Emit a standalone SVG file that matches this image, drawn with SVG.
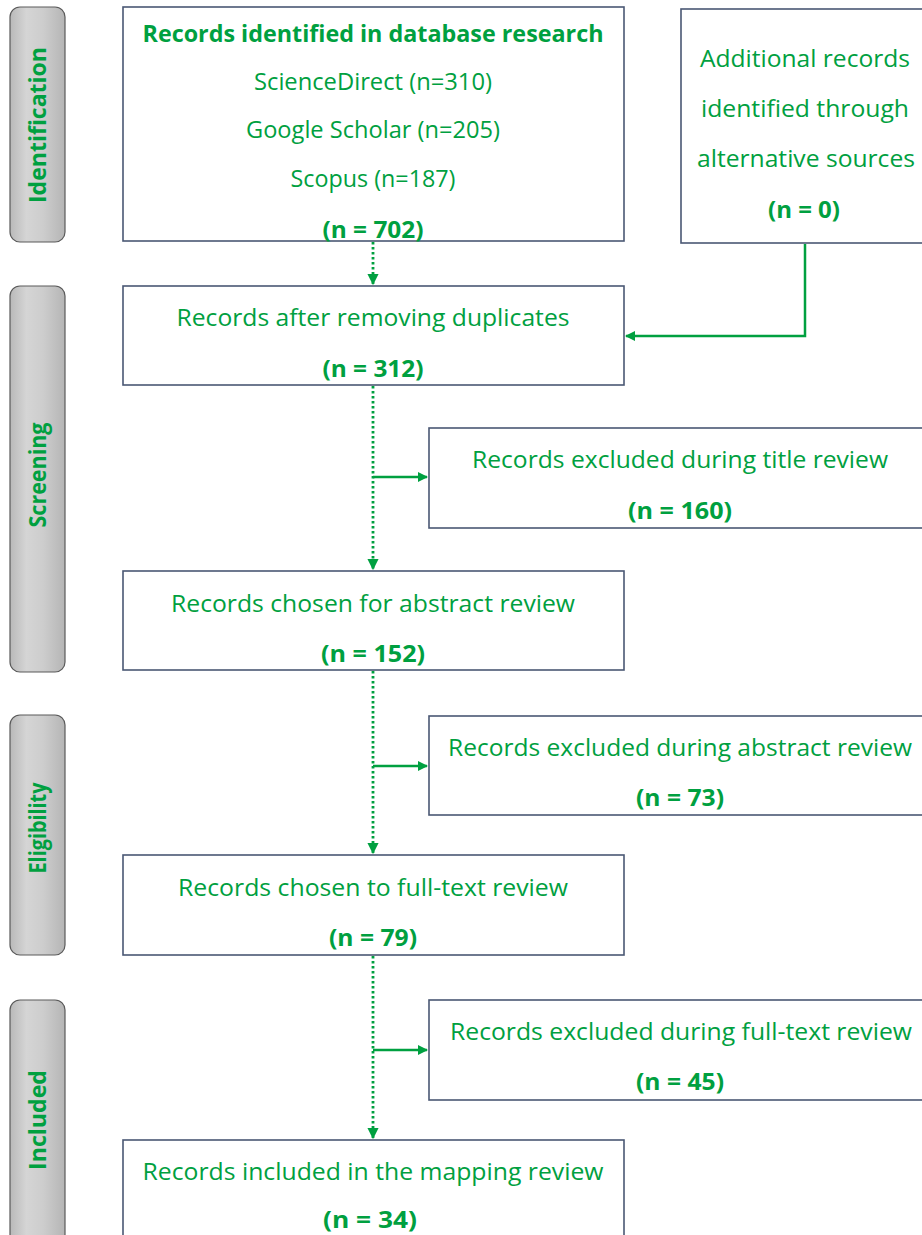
<svg xmlns="http://www.w3.org/2000/svg" width="922" height="1235" viewBox="0 0 922 1235">
  <defs>
    <linearGradient id="barFill" x1="0" y1="0" x2="1" y2="0">
      <stop offset="0" stop-color="#b9b9b9"/>
      <stop offset="0.3" stop-color="#d5d5d5"/>
      <stop offset="0.6" stop-color="#cdcdcd"/>
      <stop offset="1" stop-color="#b5b5b5"/>
    </linearGradient>
    <marker id="arrow" viewBox="0 0 10 10" refX="9" refY="5" markerWidth="4" markerHeight="4" orient="auto" markerUnits="strokeWidth">
      <path d="M0,0 L10,5 L0,10 Z" fill="#00a040"/>
    </marker>
  </defs>
  <style>
    .bar { fill: url(#barFill); stroke: #5a5a5a; stroke-width: 1.2; }
    .box { fill: #ffffff; stroke: #4a5874; stroke-width: 1.6; }
    .t { font-family: "Open Sans", "Liberation Sans", sans-serif; font-size: 23px; fill: #00a040; text-anchor: middle; }
    .b { font-weight: bold; }
    .phase { font-family: "Open Sans", "Liberation Sans", sans-serif; font-size: 23px; font-weight: bold; fill: #00a040; text-anchor: middle; }
    .solid { fill: none; stroke: #00a040; stroke-width: 2.5; }
    .dotted { fill: none; stroke: #00a040; stroke-width: 2.8; stroke-dasharray: 2.5 2.5; }
  </style>
  <rect width="922" height="1235" fill="#ffffff"/>

  <!-- phase bars -->
  <g id="phase-identification">
    <rect class="bar" x="10" y="7" width="55" height="235" rx="10"/>
    <text class="phase" transform="translate(46,125) rotate(-90)" textLength="156" lengthAdjust="spacingAndGlyphs">Identification</text>
  </g>
  <g id="phase-screening">
    <rect class="bar" x="10" y="286" width="55" height="386" rx="10"/>
    <text class="phase" transform="translate(46,475) rotate(-90)" textLength="105" lengthAdjust="spacingAndGlyphs">Screening</text>
  </g>
  <g id="phase-eligibility">
    <rect class="bar" x="10" y="715" width="55" height="240" rx="10"/>
    <text class="phase" transform="translate(46,828) rotate(-90)" textLength="91" lengthAdjust="spacingAndGlyphs">Eligibility</text>
  </g>
  <g id="phase-included">
    <rect class="bar" x="10" y="1000" width="55" height="245" rx="10"/>
    <text class="phase" transform="translate(46,1120) rotate(-90)" textLength="100" lengthAdjust="spacingAndGlyphs">Included</text>
  </g>

  <!-- connectors -->
  <g id="connectors">
    <path class="dotted" d="M373,242 V284" marker-end="url(#arrow)"/>
    <path class="dotted" d="M373,386 V569" marker-end="url(#arrow)"/>
    <path class="dotted" d="M373,671 V853" marker-end="url(#arrow)"/>
    <path class="dotted" d="M373,956 V1138" marker-end="url(#arrow)"/>
    <path class="solid" d="M373,477 H427" marker-end="url(#arrow)"/>
    <path class="solid" d="M373,766 H427" marker-end="url(#arrow)"/>
    <path class="solid" d="M373,1050 H427" marker-end="url(#arrow)"/>
    <path class="solid" d="M805,244 V336 H626" marker-end="url(#arrow)"/>
  </g>

  <!-- nodes -->
  <g id="database-records">
    <rect class="box" x="123" y="7" width="501" height="234"/>
    <text class="t b" x="373" y="42" textLength="461" lengthAdjust="spacingAndGlyphs">Records identified in database research</text>
    <text class="t" x="373" y="90" textLength="238" lengthAdjust="spacingAndGlyphs">ScienceDirect (n=310)</text>
    <text class="t" x="373" y="138" textLength="254" lengthAdjust="spacingAndGlyphs">Google Scholar (n=205)</text>
    <text class="t" x="373" y="187" textLength="165" lengthAdjust="spacingAndGlyphs">Scopus (n=187)</text>
    <text class="t b" x="373" y="238" textLength="101" lengthAdjust="spacingAndGlyphs">(n = 702)</text>
  </g>
  <g id="additional-records">
    <rect class="box" x="681" y="9" width="250" height="234"/>
    <text class="t" x="805" y="67" textLength="210" lengthAdjust="spacingAndGlyphs">Additional records</text>
    <text class="t" x="805" y="117" textLength="208" lengthAdjust="spacingAndGlyphs">identified through</text>
    <text class="t" x="806" y="167" textLength="218" lengthAdjust="spacingAndGlyphs">alternative sources</text>
    <text class="t b" x="804" y="218" textLength="72" lengthAdjust="spacingAndGlyphs">(n = 0)</text>
  </g>
  <g id="after-duplicates">
    <rect class="box" x="123" y="286" width="501" height="99"/>
    <text class="t" x="373" y="326" textLength="393" lengthAdjust="spacingAndGlyphs">Records after removing duplicates</text>
    <text class="t b" x="373" y="377" textLength="101" lengthAdjust="spacingAndGlyphs">(n = 312)</text>
  </g>
  <g id="excluded-title">
    <rect class="box" x="429" y="428" width="502" height="100"/>
    <text class="t" x="680" y="468" textLength="416" lengthAdjust="spacingAndGlyphs">Records excluded during title review</text>
    <text class="t b" x="680" y="519" textLength="104" lengthAdjust="spacingAndGlyphs">(n = 160)</text>
  </g>
  <g id="abstract-review">
    <rect class="box" x="123" y="571" width="501" height="99"/>
    <text class="t" x="373" y="612" textLength="404" lengthAdjust="spacingAndGlyphs">Records chosen for abstract review</text>
    <text class="t b" x="373" y="662" textLength="104" lengthAdjust="spacingAndGlyphs">(n = 152)</text>
  </g>
  <g id="excluded-abstract">
    <rect class="box" x="429" y="716" width="502" height="99"/>
    <text class="t" x="680" y="756" textLength="464" lengthAdjust="spacingAndGlyphs">Records excluded during abstract review</text>
    <text class="t b" x="680" y="806" textLength="88" lengthAdjust="spacingAndGlyphs">(n = 73)</text>
  </g>
  <g id="full-text-review">
    <rect class="box" x="123" y="855" width="501" height="100"/>
    <text class="t" x="373" y="896" textLength="390" lengthAdjust="spacingAndGlyphs">Records chosen to full-text review</text>
    <text class="t b" x="373" y="946" textLength="88" lengthAdjust="spacingAndGlyphs">(n = 79)</text>
  </g>
  <g id="excluded-full-text">
    <rect class="box" x="429" y="1000" width="502" height="100"/>
    <text class="t" x="681" y="1040" textLength="462" lengthAdjust="spacingAndGlyphs">Records excluded during full-text review</text>
    <text class="t b" x="680" y="1090" textLength="88" lengthAdjust="spacingAndGlyphs">(n = 45)</text>
  </g>
  <g id="included-records">
    <rect class="box" x="123" y="1140" width="501" height="110"/>
    <text class="t" x="373" y="1180" textLength="461" lengthAdjust="spacingAndGlyphs">Records included in the mapping review</text>
    <text class="t b" x="370" y="1228" textLength="94" lengthAdjust="spacingAndGlyphs">(n = 34)</text>
  </g>
</svg>
